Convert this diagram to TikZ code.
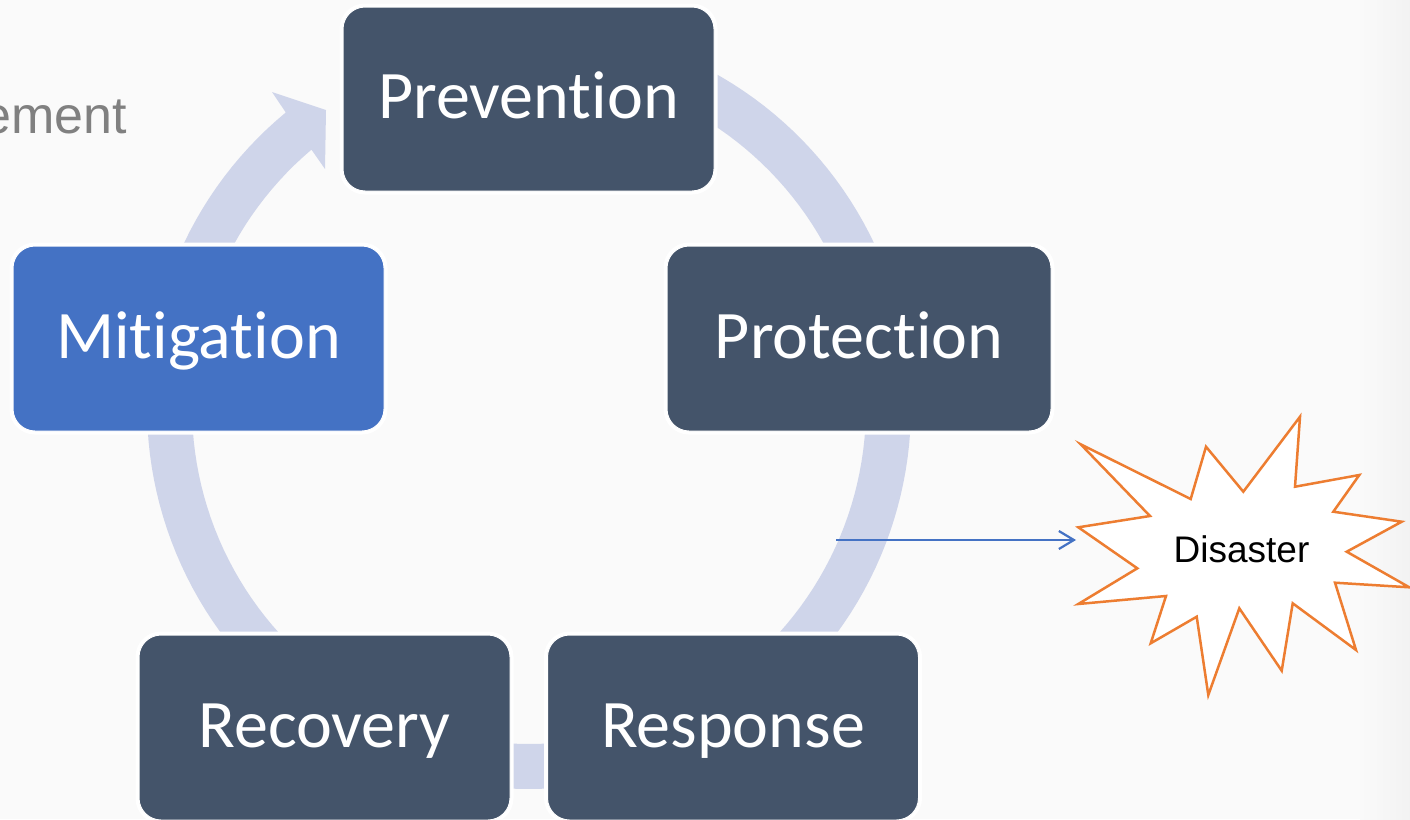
\documentclass[tikz,border=0pt]{standalone}
\usepackage{fontspec}
\setmainfont{Carlito}[Ligatures=NoCommon]
\newfontfamily\arialfont{Liberation Sans}
\usetikzlibrary{arrows.meta}
\definecolor{bgc}{HTML}{FAFAFA}
\definecolor{ringc}{HTML}{CFD5EA}
\definecolor{darkbox}{HTML}{44546A}
\definecolor{bluebox}{HTML}{4472C4}
\definecolor{orangec}{HTML}{ED7D31}
\definecolor{grayt}{HTML}{808080}
\tikzset{
  stagebox/.style={rectangle, rounded corners=22pt, minimum width=371pt, minimum height=184pt,
    inner sep=0pt, text=white, font=\fontsize{68}{80}\selectfont, text height=39pt, text depth=0pt,
    draw=white, line width=1pt, preaction={draw=white, line width=7pt}},
  darkstage/.style={stagebox, fill=darkbox},
  bluestage/.style={stagebox, fill=bluebox},
  burst/.style={fill=white, draw=orangec, line width=2.5pt, line join=miter},
  flowarrow/.style={draw=bluebox, line width=2.2pt, -{Straight Barb[length=15pt,width=18pt]}}
}
\begin{document}
\begin{tikzpicture}[x=1pt,y=-1pt]
\useasboundingbox (0,0) rectangle (1410,819);
\clip (0,0) rectangle (1410,819);
\fill[bgc] (0,0) rectangle (1410,819);
\shade[left color=bgc, right color=black!5] (1360,0) rectangle (1410,819);
% partial title
\node[font=\arialfont\fontsize{52}{62}\selectfont, text=grayt, anchor=base east, inner sep=0pt] (title) at (127,133) {ement};
% ring with arrowhead
\fill[ringc] plot[domain=-75:230.45, samples=160] ({529+382*cos(\x)},{407+382*sin(\x)})
  -- (272,92) -- (326,110) -- (325,169) -- (311.7,150)
  -- plot[domain=229.78:-75, samples=160] ({529+337*cos(\x)},{407+337*sin(\x)}) -- cycle;
% stages
\node[darkstage] (prev) at (528.5,99) {Prevention};
\node[darkstage, minimum width=384pt, minimum height=185pt] (prot) at (859,338.5) {Protection};
\node[darkstage, minimum height=185pt] (resp) at (733,727.5) {Response};
\node[darkstage, minimum height=185pt] (reco) at (324.5,727.5) {Recovery};
\node[bluestage, minimum height=185pt] (miti) at (198.5,338.5) {Mitigation};
% disaster starburst
\filldraw[burst] (1080.7,444.3) -- (1190.7,499) -- (1206,446.7) -- (1243.3,491.7) -- (1300,416.7)
  -- (1295,486.7) -- (1359.3,475) -- (1333.3,511.7) -- (1401.7,521.7) -- (1346.7,551.7)
  -- (1409.3,587.3) -- (1335,582.7) -- (1356,650) -- (1292.7,603.3) -- (1281.7,670.7)
  -- (1239.3,608.3) -- (1208.3,695) -- (1196.7,616.7) -- (1150.7,643.3) -- (1166,596)
  -- (1078.3,604) -- (1137.3,568.3) -- (1078.3,527.3) -- (1150,516) -- cycle;
\node[font=\arialfont\fontsize{37}{44}\selectfont, anchor=base, inner sep=0pt] (dis) at (1241.5,562) {Disaster};
% arrow to disaster
\coordinate (src) at (836,540);
\coordinate (tip) at (1076,540);
\draw[flowarrow] (src) -- (tip);
\end{tikzpicture}
\end{document}
